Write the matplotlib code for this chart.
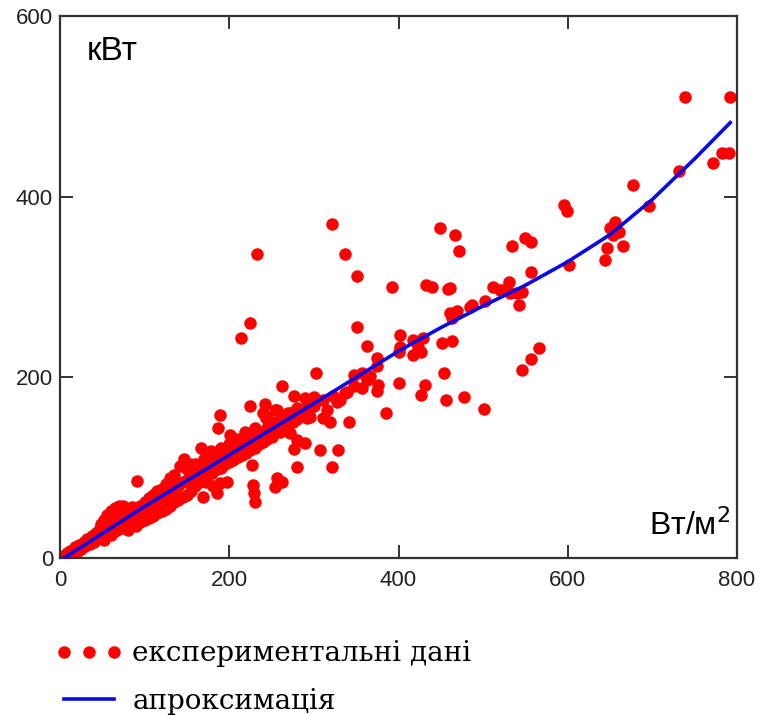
import matplotlib
matplotlib.use('Agg')
import matplotlib.pyplot as plt

# experimental points: irradiance (W/m2) -> power (kW)
x_exp = [4, 8, 10, 12, 15, 18, 20, 22, 25, 28, 30, 32, 35, 38, 40, 42, 44, 46,
         48, 48, 52, 52, 52, 56, 56, 56, 60, 60, 60, 60, 65, 65, 65, 65,
         70, 70, 70, 70, 75, 75, 75, 80, 80, 80, 85, 85, 85, 90, 90, 91,
         95, 95, 95, 100, 100, 100, 105, 105, 105, 110, 110, 110, 115, 115, 115,
         120, 120, 120, 125, 125, 125, 130, 130, 130, 135, 135, 135, 140, 140, 142,
         145, 145, 146, 150, 150, 150, 154, 155, 155,
         160, 160, 160, 165, 165, 167, 169, 170, 170, 170, 173, 175, 175, 179,
         180, 180, 181, 185, 185, 185, 187, 189, 189, 190, 190, 190, 195, 195, 197,
         200, 200, 200, 201, 205, 205, 210, 210, 210, 215, 215, 219, 220, 220,
         225, 225, 225, 227, 228, 229, 230, 230, 230, 230, 235, 235, 240, 240, 240,
         242, 244, 245, 245, 250, 250, 250, 254, 254, 256, 256, 256, 260, 260,
         262, 262, 264, 265, 265, 270, 270, 272, 272, 275, 275, 276, 276, 280, 280,
         280, 280, 284, 285, 287, 290, 290, 290, 292, 292, 295, 296, 300, 300,
         225, 214, 233,
         303, 307, 311, 311, 315, 319, 321, 323, 327, 329, 331, 337, 339, 342, 347,
         347, 351, 351, 321, 337, 357, 357, 363, 363, 366, 374, 374, 375, 376, 385,
         392, 400, 401, 402, 402, 417, 417, 423, 427, 427, 429, 431,
         433, 439, 449, 451, 454, 456, 459, 461, 461, 463, 463, 467, 469, 471, 477,
         485, 487, 501, 502, 512, 520, 524, 530, 532, 534, 540, 542, 546, 546, 550,
         556, 556, 556, 566,
         595, 599, 601, 644, 646, 650, 654, 656, 660, 665, 677, 696, 731, 739, 771,
         782, 790, 792]
y_exp = [2, 6, 1, 8, 5, 12, 7, 14, 10, 18, 13, 21, 16, 24, 18, 28, 22, 31,
         22, 38, 20, 30, 42, 26, 36, 48, 25, 36, 46, 52, 30, 40, 50, 55,
         32, 42, 50, 57, 34, 46, 58, 31, 42, 52, 36, 48, 56, 35, 50, 85,
         40, 52, 58, 42, 55, 62, 44, 58, 66, 46, 60, 70, 50, 64, 74,
         52, 66, 76, 54, 70, 82, 58, 74, 88, 62, 76, 92, 64, 80, 102,
         68, 84, 110, 70, 86, 99, 104, 74, 90,
         80, 92, 104, 84, 96, 122, 68, 86, 100, 110, 84, 92, 102, 118,
         94, 106, 80, 72, 98, 108, 144, 158, 83, 100, 112, 122, 104, 114, 84,
         106, 116, 126, 136, 108, 120, 112, 122, 132, 114, 126, 140, 116, 128,
         120, 132, 168, 103, 81, 72, 62, 122, 134, 144, 126, 138, 128, 140, 160,
         171, 155, 132, 144, 134, 146, 151, 164, 79, 88, 145, 164, 140, 152,
         84, 190, 150, 144, 156, 148, 160, 138, 153, 150, 162, 121, 179, 154, 131,
         101, 166, 160, 158, 164, 127, 162, 177, 155, 175, 166, 156, 168, 178,
         260, 243, 336,
         205, 119, 155, 175, 164, 151, 101, 179, 173, 119, 175, 183, 184, 151, 190,
         203, 256, 312, 370, 336, 188, 205, 197, 235, 201, 212, 185, 221, 192, 160,
         300, 228, 194, 234, 247, 241, 225, 234, 228, 180, 244, 191,
         302, 300, 365, 238, 205, 175, 298, 299, 271, 240, 266, 358, 273, 340, 178,
         278, 280, 165, 284, 300, 297, 297, 306, 293, 345, 293, 280, 295, 208, 354,
         350, 317, 220, 232,
         391, 384, 324, 330, 343, 365, 358, 372, 361, 345, 413, 390, 428, 510, 437,
         448, 448, 510]

# approximating curve
x_fit = [5, 100, 200, 300, 400, 450, 500, 550, 600, 650, 700, 750, 792]
y_fit = [0, 57, 114, 171, 229, 255, 279, 302, 328, 358, 397, 442, 482]

x_ticks = [0, 200, 400, 600, 800]
y_ticks = [0, 200, 400, 600]

fig = plt.figure(figsize=(7.66, 7.15), dpi=100)
ax = fig.add_axes([0.0783, 0.2196, 0.8839, 0.758])

pts, = ax.plot(x_exp, y_exp, 'o', color='#ff0000', ms=9, mec='none',
               label='експериментальні дані', zorder=2)
fit, = ax.plot(x_fit, y_fit, '-', color='#0a0ae6', lw=2.6,
               label='апроксимація', zorder=3)

ax.set_xlim(0, 800)
ax.set_ylim(0, 600)
ax.set_xticks(x_ticks)
ax.set_yticks(y_ticks)
ax.tick_params(direction='in', length=9.5, width=1.3, color='#222222',
               top=True, right=True, labelsize=16)
ax.tick_params(axis='x', pad=9)
ax.tick_params(axis='y', pad=5)
for lab in ax.get_xticklabels() + ax.get_yticklabels():
    lab.set_family('Liberation Sans')
    lab.set_color('#222222')
for sp in ax.spines.values():
    sp.set_linewidth(1.6)
    sp.set_color('#333333')

ax.text(0.04, 0.963, 'кВт', transform=ax.transAxes, fontsize=24,
        family='Liberation Sans', va='top', ha='left')
ax.text(0.99, 0.03, 'Вт/м$^2$', transform=ax.transAxes, fontsize=23,
        family='Liberation Sans', va='bottom', ha='right')

fig.legend(handles=[pts, fit], loc='upper left', bbox_to_anchor=(0.055, 0.124),
           frameon=False, numpoints=3, handlelength=2.4, handletextpad=0.35,
           labelspacing=0.75, borderpad=0,
           prop={'family': 'DejaVu Serif', 'size': 20})

fig.savefig('out.png', dpi=100)
